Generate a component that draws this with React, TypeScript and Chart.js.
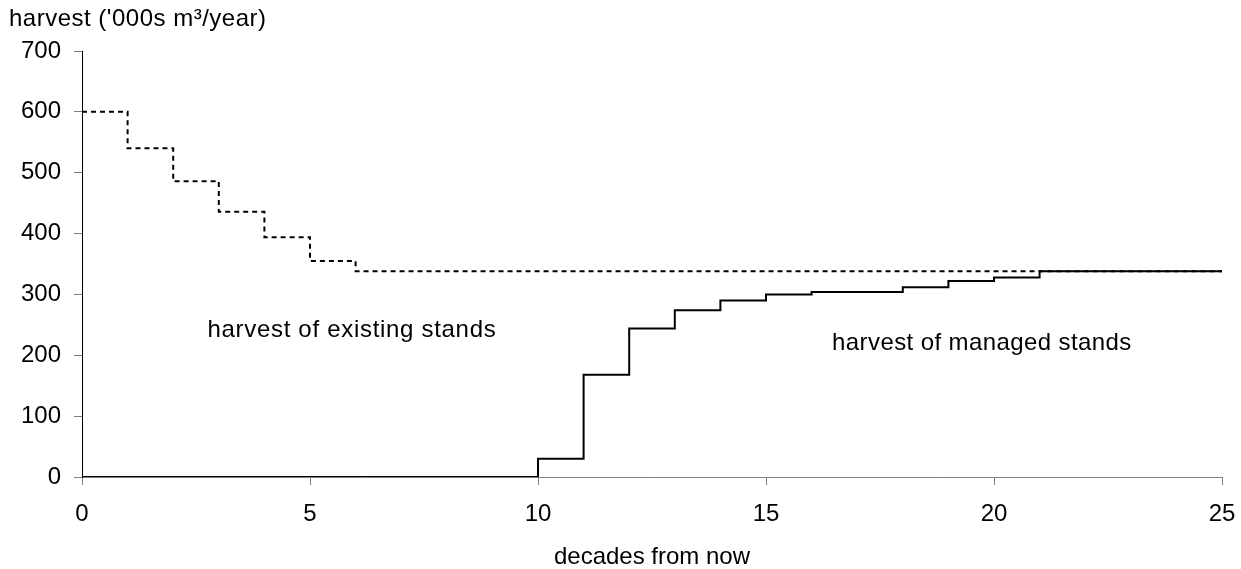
import React, { useEffect, useRef } from "react";
import { Chart, registerables } from "chart.js";

Chart.register(...registerables);

const decades = [0, 1, 2, 3, 4, 5, 6, 7, 8, 9, 10, 11, 12, 13, 14, 15, 16, 17, 18, 19, 20, 21, 22, 23, 24, 25];
const existingStands = [600, 540, 486, 436, 394, 355, 338, 338, 338, 338, 338, 338, 338, 338, 338, 338, 338, 338, 338, 338, 338, 338, 338, 338, 338, 338];
const managedStands = [0, 0, 0, 0, 0, 0, 0, 0, 0, 0, 30, 168, 244, 274, 290, 300, 304, 304, 312, 322, 328, 338, 338, 338, 338, 338];

const xTicks = [0, 5, 10, 15, 20, 25];
const yTicks = [0, 100, 200, 300, 400, 500, 600, 700];

const yTitle = "harvest ('000s m³/year)";
const xTitle = "decades from now";
const existingLabel = "harvest of existing stands";
const managedLabel = "harvest of managed stands";
// label anchors in data units (decade, harvest) - left/baseline
const existingLabelAt = [2.75, 230];
const managedLabelAt = [16.45, 209];

const FONT = "'Liberation Sans', Arial, sans-serif";

const textPlugin = {
  id: "textPlugin",
  afterDraw(chart: any) {
    const ctx = chart.ctx;
    const xs = chart.scales.x;
    const ys = chart.scales.y;
    ctx.save();
    ctx.fillStyle = "#000";
    ctx.textAlign = "left";
    ctx.textBaseline = "alphabetic";
    ctx.font = `24px ${FONT}`;
    try {
      (ctx as any).letterSpacing = "0.5px";
    } catch (e) {}
    ctx.fillText(yTitle, 9, 26);
    try {
      (ctx as any).letterSpacing = "0.7px";
    } catch (e) {}
    ctx.fillText(existingLabel, xs.getPixelForValue(existingLabelAt[0]), ys.getPixelForValue(existingLabelAt[1]));
    try {
      (ctx as any).letterSpacing = "0.4px";
    } catch (e) {}
    ctx.fillText(managedLabel, xs.getPixelForValue(managedLabelAt[0]), ys.getPixelForValue(managedLabelAt[1]));
    ctx.restore();
  },
};

export default function App() {
  const ref = useRef<HTMLCanvasElement>(null);
  useEffect(() => {
    document.body.style.margin = "0";
    const canvas = ref.current;
    if (!canvas) return;
    const chart = new Chart(canvas, {
      type: "line",
      data: {
        datasets: [
          {
            label: managedLabel,
            data: decades.map((d, i) => ({ x: d, y: managedStands[i] })),
            borderColor: "#000",
            borderWidth: 2,
            stepped: true,
            pointRadius: 0,
            fill: false,
          },
          {
            label: existingLabel,
            data: decades.map((d, i) => ({ x: d, y: existingStands[i] })),
            borderColor: "#000",
            borderWidth: 2,
            borderDash: [5, 4],
            stepped: true,
            pointRadius: 0,
            fill: false,
          },
        ],
      },
      options: {
        animation: false,
        responsive: true,
        maintainAspectRatio: false,
        layout: { padding: { top: 51, right: 19, left: 0, bottom: 0 } },
        plugins: {
          legend: { display: false },
          tooltip: { enabled: false },
          title: { display: false },
        },
        scales: {
          x: {
            type: "linear",
            min: 0,
            max: 25,
            afterBuildTicks: (s: any) => {
              s.ticks = xTicks.map((v) => ({ value: v }));
            },
            afterFit: (s: any) => {
              s.height = 92;
              s.paddingLeft = 0;
              s.paddingRight = 0;
            },
            grid: {
              display: true,
              drawOnChartArea: false,
              drawTicks: true,
              tickLength: 8,
              color: "#808080",
              tickColor: "#808080",
            },
            border: { display: true, color: "#808080", width: 1 },
            ticks: {
              color: "#000",
              padding: 15,
              maxRotation: 0,
              font: { family: FONT, size: 24 },
            },
            title: {
              display: true,
              text: xTitle,
              color: "#000",
              padding: { top: 0, bottom: 0 },
              font: { family: FONT, size: 24, lineHeight: 1 },
            },
          },
          y: {
            type: "linear",
            min: 0,
            max: 700,
            afterBuildTicks: (s: any) => {
              s.ticks = yTicks.map((v) => ({ value: v }));
            },
            afterFit: (s: any) => {
              s.width = 82;
              s.paddingTop = 0;
              s.paddingBottom = 0;
            },
            grid: {
              display: true,
              drawOnChartArea: false,
              drawTicks: true,
              tickLength: 8,
              color: "#808080",
              tickColor: "#808080",
            },
            border: { display: true, color: "#000", width: 1 },
            ticks: {
              color: "#000",
              padding: 13,
              font: { family: FONT, size: 24 },
            },
          },
        },
      },
      plugins: [textPlugin],
    } as any);
    return () => chart.destroy();
  }, []);
  return (
    <div style={{ position: "relative", width: "1241px", height: "569px" }}>
      <canvas ref={ref} />
    </div>
  );
}
